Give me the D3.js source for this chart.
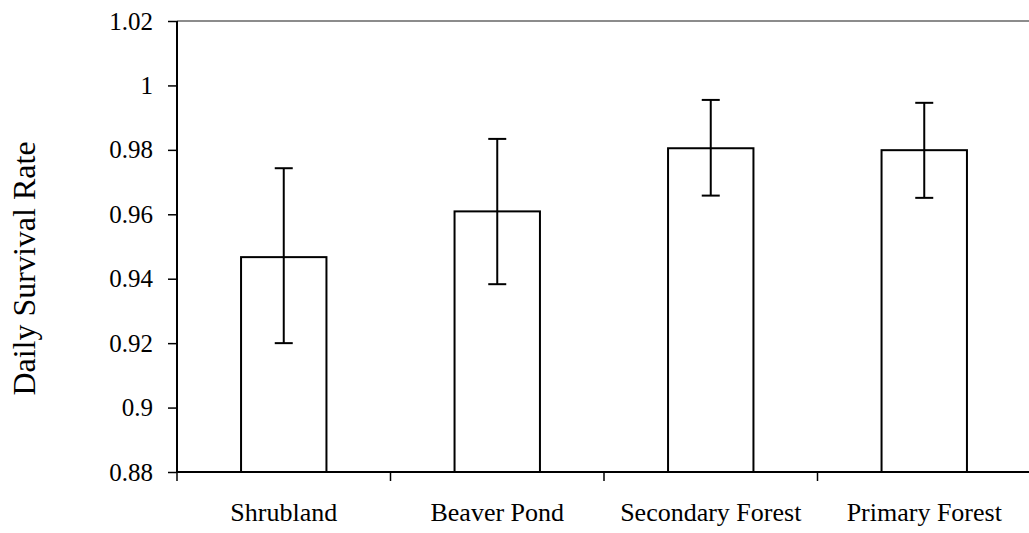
<!DOCTYPE html>
<html>
<head>
<meta charset="utf-8">
<script src="https://cdn.jsdelivr.net/npm/d3@7"></script>
<style>
  body { margin: 0; background: #fff; }
  svg text { font-family: "Liberation Serif", "Times New Roman", serif; fill: #000; }
</style>
</head>
<body>
<svg id="chart" width="1029" height="533"></svg>
<script>
// valores
const habitats = ["Shrubland", "Beaver Pond", "Secondary Forest", "Primary Forest"];
const dsr = [0.9467, 0.9609, 0.9805, 0.9799];
const lower = [0.9200, 0.9383, 0.9658, 0.9651];
const upper = [0.9743, 0.9834, 0.9955, 0.9946];
const yTicks = [0.88, 0.9, 0.92, 0.94, 0.96, 0.98, 1, 1.02];

const svg = d3.select("#chart");
const mLeft = 177, mRight = 1031, mTop = 21, mBottom = 472;

const x = d3.scaleBand().domain(habitats).range([mLeft, mRight]).paddingInner(0).paddingOuter(0);
const y = d3.scaleLinear().domain([0.88, 1.02]).range([mBottom, mTop]);

const bw = x.bandwidth() * 0.4;

// linea superior gris
svg.append("line")
    .attr("x1", mLeft).attr("x2", 1029)
    .attr("y1", y(1.02)).attr("y2", y(1.02))
    .attr("stroke", "#8c8c8c").attr("stroke-width", 2);

// barras
svg.append("g").selectAll("rect")
    .data(habitats)
    .join("rect")
    .attr("x", d => x(d) + (x.bandwidth() - bw) / 2)
    .attr("y", (d, i) => y(dsr[i]))
    .attr("width", bw)
    .attr("height", (d, i) => mBottom - y(dsr[i]))
    .attr("fill", "#fff")
    .attr("stroke", "#000")
    .attr("stroke-width", 2);

// barras de error
const err = svg.append("g").attr("stroke", "#000").attr("stroke-width", 2);
habitats.forEach((d, i) => {
    const cx = x(d) + x.bandwidth() / 2;
    err.append("line").attr("x1", cx).attr("x2", cx).attr("y1", y(lower[i])).attr("y2", y(upper[i]));
    err.append("line").attr("x1", cx - 9).attr("x2", cx + 9).attr("y1", y(lower[i])).attr("y2", y(lower[i]));
    err.append("line").attr("x1", cx - 9).attr("x2", cx + 9).attr("y1", y(upper[i])).attr("y2", y(upper[i]));
});

// eje y
const yAxis = svg.append("g")
    .attr("transform", `translate(${mLeft},0)`)
    .call(d3.axisLeft(y).tickValues(yTicks).tickSize(9).tickPadding(15).tickFormat(d => d3.format("")(+d.toFixed(2))));
yAxis.select(".domain").attr("stroke-width", 2).attr("d", `M0,${mTop}V${mBottom}`);
yAxis.selectAll(".tick line").attr("stroke-width", 1.5);
yAxis.selectAll("text").style("font-size", "25px");

// eje x
const xAxis = svg.append("g")
    .attr("transform", `translate(0,${mBottom})`)
    .call(d3.axisBottom(x).tickSize(0).tickPadding(31));
xAxis.select(".domain").attr("stroke-width", 2).attr("d", `M${mLeft},0H1029`);
xAxis.selectAll("text").style("font-size", "26px");
xAxis.selectAll(".sep")
    .data(x.domain().map(d => x(d)))
    .join("line")
    .attr("class", "sep")
    .attr("x1", d => d).attr("x2", d => d)
    .attr("y1", 0).attr("y2", 9)
    .attr("stroke", "#000").attr("stroke-width", 1.5);

// titulo eje y
svg.append("text")
    .attr("transform", `translate(35,${(mTop + mBottom) / 2 + 22}) rotate(-90)`)
    .attr("text-anchor", "middle")
    .style("font-size", "32px")
    .text("Daily Survival Rate");
</script>
</body>
</html>
